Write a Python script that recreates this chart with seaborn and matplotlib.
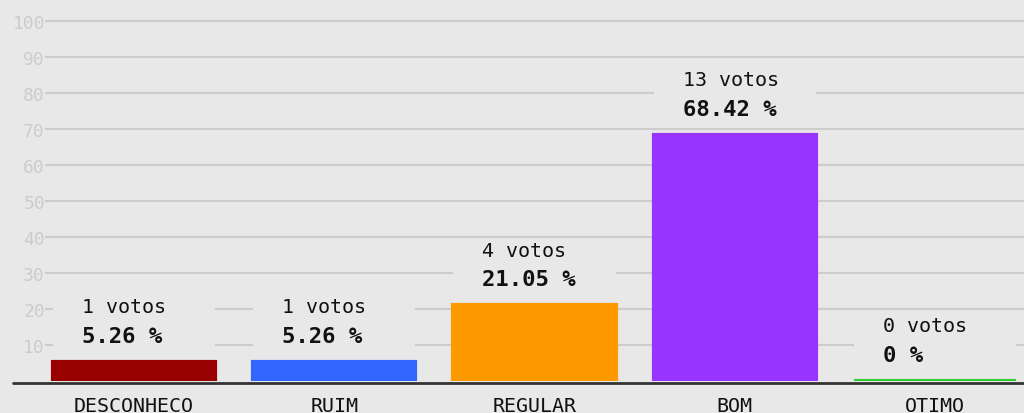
import matplotlib
matplotlib.use("Agg")
import matplotlib.pyplot as plt
from matplotlib.patches import Rectangle
from matplotlib import transforms
import seaborn as sns
import pandas as pd

# poll results
categorias = ["DESCONHECO", "RUIM", "REGULAR", "BOM", "OTIMO"]
votos = [1, 1, 4, 13, 0]
percentuais = [5.26, 5.26, 21.05, 68.42, 0]
percentuais_txt = ["5.26", "5.26", "21.05", "68.42", "0"]
cores = ["#990000", "#3366ff", "#ff9900", "#9933ff", "#33cc33"]
yticks = [10, 20, 30, 40, 50, 60, 70, 80, 90, 100]

bg = "#e8e8e8"
sns.set_style("white")
plt.rcParams["font.family"] = ["DejaVu Sans Mono", "DejaVu Sans"]

df = pd.DataFrame({"cat": categorias, "pct": percentuais})

fig = plt.figure(figsize=(10.24, 4.14), dpi=100, facecolor=bg)
ax = fig.add_axes([45 / 1024, 32 / 414, 979 / 1024, 382 / 414])
ax.set_facecolor(bg)

sns.barplot(data=df, x="cat", y="pct", hue="cat", palette=cores, legend=False,
            width=0.81, ax=ax, zorder=2, linewidth=3, saturation=1)
for p, c in zip(ax.patches, cores):
    p.set_edgecolor(c)

ax.set_xlim(-0.444, 4.444)
ax.set_ylim(0, 106.1)
ax.set_yticks(yticks)
ax.set_yticklabels([str(t) for t in yticks])
ax.yaxis.grid(True, color="#cccccc", linewidth=1.5)
ax.set_axisbelow(True)
ax.tick_params(axis="y", length=0, pad=0, labelsize=13, labelcolor="#cccccc")
ax.tick_params(axis="x", length=0, pad=11, labelsize=14.4, labelcolor="#111111")
ax.set_xlabel("")
ax.set_ylabel("")
for s in ax.spines.values():
    s.set_visible(False)

# baseline extending left of axes, sitting just under the bars
base_tr = transforms.offset_copy(ax.get_yaxis_transform(), fig=fig, y=-1.5, units="dots")
ax.plot([-32 / 979, 1], [0, 0], transform=base_tr, color="#333333",
        linewidth=2, clip_on=False, zorder=4)

for i, (v, n, t) in enumerate(zip(percentuais, votos, percentuais_txt)):
    ax.add_patch(Rectangle((i - 0.405, v + 2.8), 0.81, 14.4,
                           facecolor=bg, edgecolor="none", zorder=2.5))
    ax.text(i - 0.26, v + 15.3, f"{n} votos", ha="left", va="center",
            fontsize=14.4, color="#111111", zorder=3)
    ax.text(i - 0.26, v + 7.2, f"{t} %", ha="left", va="center",
            fontsize=16, fontweight="bold", color="#111111", zorder=3)

fig.savefig("out.png", dpi=100, facecolor=bg)
